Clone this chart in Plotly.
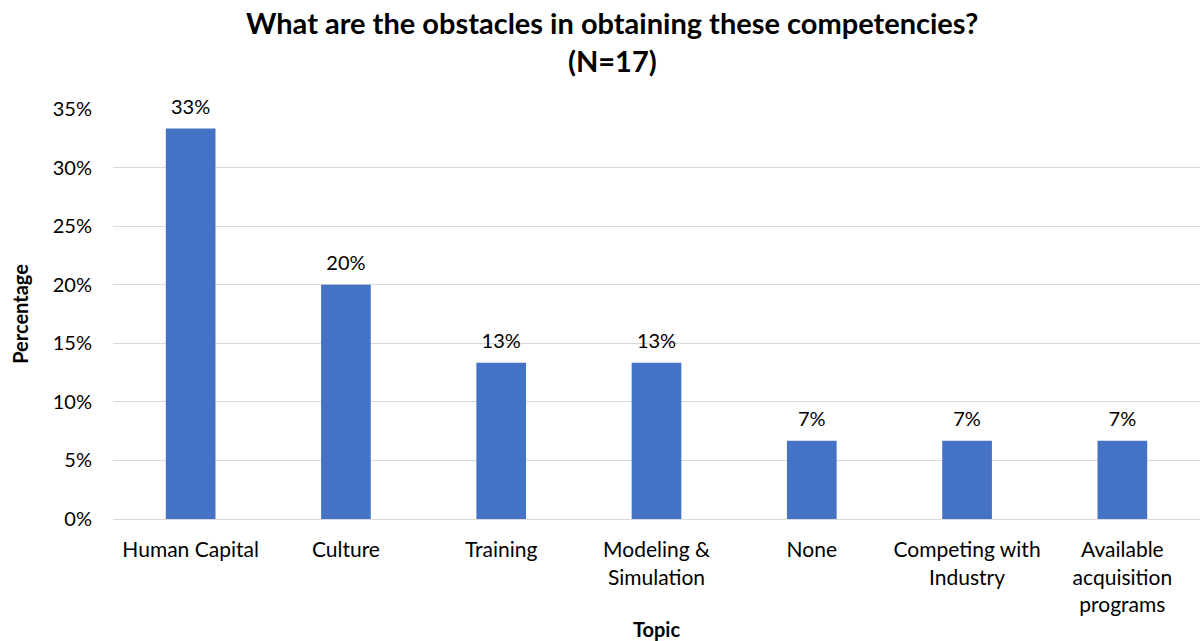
import plotly.graph_objects as go

# Survey results: share of respondents naming each obstacle
topics = [
    "Human Capital",
    "Culture",
    "Training",
    "Modeling &<br>Simulation",
    "None",
    "Competing with<br>Industry",
    "Available<br>acquisition<br>programs",
]
shares = [0.3333, 0.20, 0.1333, 0.1333, 0.0667, 0.0667, 0.0667]
tick_vals = [0, 0.05, 0.10, 0.15, 0.20, 0.25, 0.30, 0.35]
title_lines = ["What are the obstacles in obtaining these competencies?", "(N=17)"]

FONT = "Lato"

fig = go.Figure()

fig.add_trace(
    go.Bar(
        x=topics,
        y=shares,
        marker=dict(color="#4472C4", line=dict(width=0)),
        hoverinfo="skip",
    )
)

# value labels sitting just above each bar
fig.add_trace(
    go.Scatter(
        x=topics,
        y=shares,
        mode="markers+text",
        marker=dict(size=14, opacity=0),
        texttemplate="%{y:.0%}",
        textposition="top center",
        textfont=dict(family=FONT, size=20, color="#000000"),
        cliponaxis=False,
        hoverinfo="skip",
    )
)

fig.update_layout(
    width=1201,
    height=641,
    margin=dict(l=113, r=1, t=109, b=122),
    paper_bgcolor="white",
    plot_bgcolor="white",
    bargap=0.68,
    showlegend=False,
    font=dict(family=FONT, size=20, color="#000000"),
)

# two-line bold title
for line, ypos in zip(title_lines, [1.212, 1.1195]):
    fig.add_annotation(
        text=f"<b>{line}</b>",
        xref="paper",
        yref="paper",
        x=(612 - 113) / 1087,
        y=ypos,
        xanchor="center",
        yanchor="middle",
        showarrow=False,
        font=dict(family=FONT, size=29, color="#000000"),
    )

fig.update_yaxes(
    range=[0, 0.35],
    tickvals=tick_vals,
    tickformat=".0%",
    showgrid=True,
    gridcolor="#D9D9D9",
    gridwidth=1,
    zeroline=False,
    showline=False,
    ticks="",
    ticklabelstandoff=20,
    title=dict(text="<b>Percentage</b>", font=dict(family=FONT, size=20), standoff=18),
    tickfont=dict(family=FONT, size=20),
)

fig.update_xaxes(
    showline=True,
    linecolor="#D9D9D9",
    linewidth=1,
    ticks="",
    ticklabelstandoff=12,
    tickfont=dict(family=FONT, size=21),
    title=dict(text="<b>Topic</b>", font=dict(family=FONT, size=20), standoff=10),
)

fig.write_html("out.html")
